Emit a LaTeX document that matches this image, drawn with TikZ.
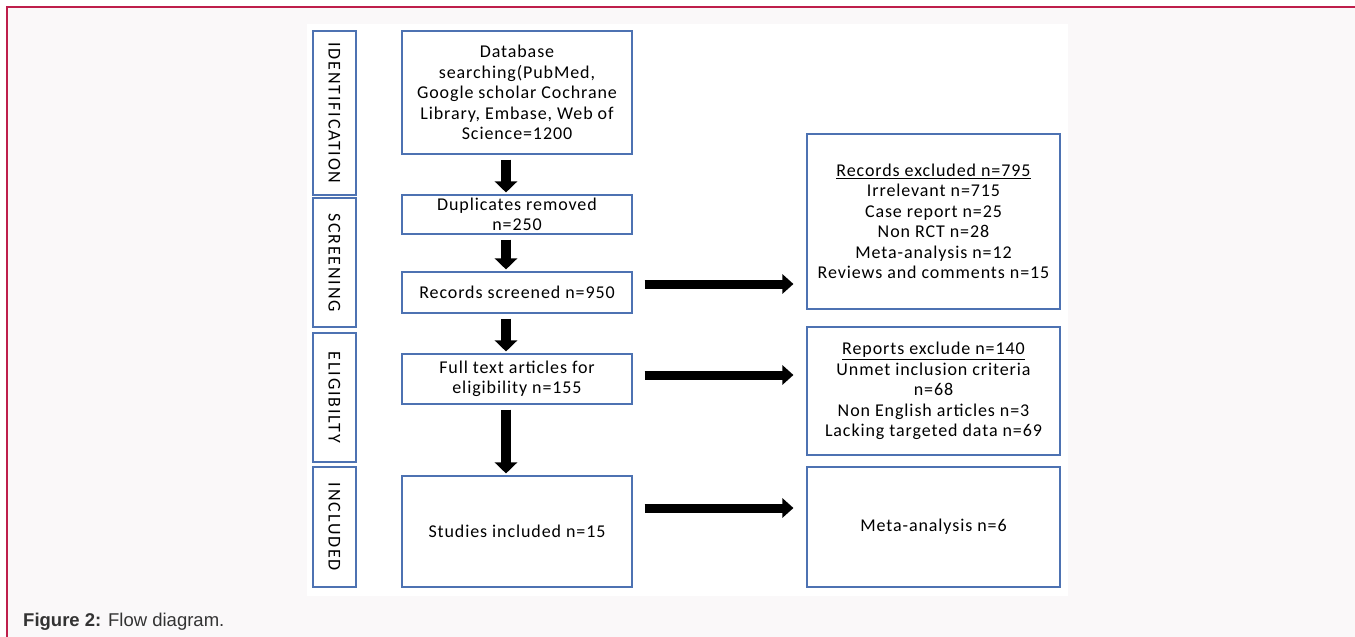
\documentclass[tikz,border=0pt]{standalone}
\usepackage{fontspec}
\setmainfont[LetterSpace=5]{Carlito}
\newfontfamily\capfont{Liberation Sans}
\newfontfamily\stagefont[LetterSpace=10]{Carlito}
\usetikzlibrary{arrows.meta}

\definecolor{boxblue}{HTML}{4D72B2}
\definecolor{framered}{HTML}{BE1E4B}
\definecolor{pagebg}{HTML}{FAF8F9}
\definecolor{capgray}{HTML}{333333}

\begin{document}
\begin{tikzpicture}[x=1pt,y=-1pt,
	stage/.style={draw=boxblue, line width=1.1pt, rotate=-90, minimum height=43pt, inner sep=0pt, font=\stagefont\fontsize{18}{20}\selectfont},
	box/.style={draw=boxblue, line width=1.1pt, align=center, inner sep=0pt, font=\fontsize{18}{20.5}\selectfont},
	down/.style={line width=10pt, -{Triangle[length=11pt,width=22pt]}, shorten <=5pt, shorten >=2pt},
	sidearrow/.style={line width=9pt, -{Triangle[length=11pt,width=19pt]}, shorten <=12pt, shorten >=13pt}]
	\useasboundingbox (0,0) rectangle (1355,637);
	\fill[pagebg] (7,7) rectangle (1355,637);
	\fill[white] (307,24) rectangle (1068,596);
	\draw[framered, line width=1.5pt] (1355,7) -- (7,7) -- (7,637);

	% stages
	\node[stage, minimum width=164pt] (ident) at (334.5,113) {IDENTIFICATION};
	\node[stage, minimum width=129pt] (scrn) at (334.5,262.5) {SCREENING};
	\node[stage, minimum width=129pt] (elig) at (334.5,397.5) {ELIGIBILTY};
	\node[stage, minimum width=120pt] (incl) at (334.5,527) {INCLUDED};

	% main column
	\node[box, minimum width=230pt, minimum height=123pt] (db) at (517,92.5) {Database\\ searching(PubMed,\\ Google scholar Cochrane\\ Library, Embase, Web of\\ Science=1200};
	\node[box, minimum width=230pt, minimum height=39pt] (dup) at (517,214.5) {Duplicates removed\\ n=250};
	\node[box, minimum width=230pt, minimum height=41pt] (scr) at (517,292.5) {Records screened n=950};
	\node[box, minimum width=230pt, minimum height=50pt] (full) at (517,379) {Full text articles for\\ eligibility n=155};
	\node[box, minimum width=230pt, minimum height=111pt] (stud) at (517,531.5) {Studies included n=15};

	% excluded column
	\node[box, minimum width=253pt, minimum height=175pt] (exc1) at (933.5,221.5) {\underline{Records excluded n=795}\\ Irrelevant n=715\\ Case report n=25\\ Non RCT n=28\\ Meta-analysis n=12\\ Reviews and comments n=15};
	\node[box, minimum width=253pt, minimum height=128pt] (exc2) at (933.5,391) {\underline{Reports exclude n=140}\\ Unmet inclusion criteria\\ n=68\\ Non English articles n=3\\ Lacking targeted data n=69};
	\node[box, minimum width=253pt, minimum height=120pt] (meta) at (933.5,527) {Meta-analysis n=6};

	\draw[down] ([xshift=-11pt]db.south) -- ([xshift=-11pt]dup.north);
	\draw[down] ([xshift=-11pt]dup.south) -- ([xshift=-11pt]scr.north);
	\draw[down] ([xshift=-11pt]scr.south) -- ([xshift=-11pt]full.north);
	\draw[down] ([xshift=-11pt]full.south) -- ([xshift=-11pt]stud.north);

	\draw[sidearrow] ([yshift=8.5pt]scr.east) -- ([yshift=8.5pt]scr.east -| exc1.west);
	\draw[sidearrow] ([yshift=4pt]full.east) -- ([yshift=4pt]full.east -| exc2.west);
	\draw[sidearrow] ([yshift=23.5pt]stud.east) -- ([yshift=23.5pt]stud.east -| meta.west);

	\node[anchor=west, inner sep=0pt, text=capgray, font=\capfont\fontsize{18.5}{22}\selectfont] (cap) at (23,622) {\textbf{Figure 2:} Flow diagram.};
\end{tikzpicture}
\end{document}
